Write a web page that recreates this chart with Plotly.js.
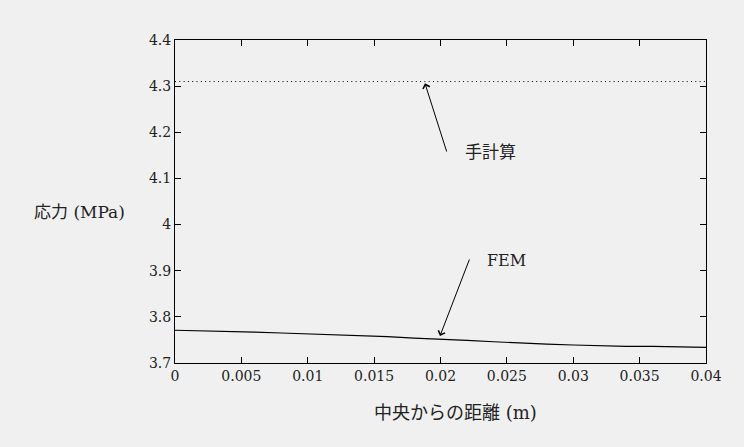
<!DOCTYPE html>
<html>
<head>
<meta charset="utf-8">
<script src="https://cdn.plot.ly/plotly-3.0.1.min.js"></script>
<style>html,body{margin:0;padding:0;background:#f0f0f0;}</style>
</head>
<body>
<div id="chart" style="width:744px;height:447px;"></div>
<script>
// FEM result along distance from the centre
const femX = [0,0.002,0.004,0.006,0.008,0.010,0.012,0.014,0.016,0.018,0.020,0.022,0.024,0.026,0.028,0.030,0.032,0.034,0.036,0.038,0.040];
const femY = [3.771,3.770,3.769,3.767,3.765,3.763,3.762,3.759,3.757,3.754,3.752,3.749,3.746,3.743,3.741,3.739,3.737,3.736,3.736,3.735,3.734];
// hand calculation (constant)
const handX = [0, 0.04];
const handY = [4.31, 4.31];

const xTickVals = [0,0.005,0.01,0.015,0.02,0.025,0.03,0.035,0.04];
const xTickText = ["0","0.005","0.01","0.015","0.02","0.025","0.03","0.035","0.04"];
const yTickVals = [3.7,3.8,3.9,4.0,4.1,4.2,4.3,4.4];
const yTickText = ["3.7","3.8","3.9","4","4.1","4.2","4.3","4.4"];

const labelHand = "手計算";
const labelFEM = "FEM";
const xTitle = "中央からの距離 (m)";
const yTitle = "応力 (MPa)";

const FONT = "DejaVu Serif, Noto Sans CJK JP, serif";

const traces = [
  {x: handX, y: handY, mode: 'lines', line: {color: '#000', width: 1, dash: '1px,3.3px'}, hoverinfo: 'skip'},
  {x: femX, y: femY, mode: 'lines', line: {color: '#000', width: 1.2}, hoverinfo: 'skip'}
];

const axisCommon = {
  showline: true, linecolor: '#000', linewidth: 1, mirror: 'ticks',
  ticks: 'inside', ticklen: 6, tickcolor: '#000', tickwidth: 1,
  showgrid: false, zeroline: false, tickmode: 'array',
  tickfont: {family: FONT, size: 14, color: '#222'}
};

const pw = 744 - 175 - 38, ph = 447 - 40 - 84;
const px2x = p => (p - 175) / pw;
const px2y = p => (447 - 84 - p) / ph;

const layout = {
  width: 744, height: 447,
  margin: {l: 175, r: 38, t: 40, b: 84},
  paper_bgcolor: '#f0f0f0', plot_bgcolor: '#f0f0f0',
  showlegend: false,
  font: {family: FONT},
  xaxis: Object.assign({}, axisCommon, {range: [0, 0.04], tickvals: xTickVals, ticktext: xTickText}),
  yaxis: Object.assign({}, axisCommon, {range: [3.7, 4.4], tickvals: yTickVals, ticktext: yTickText}),
  annotations: [
    {x: 0.01883, y: 4.306, ax: 0.0205, ay: 4.155, xref: 'x', yref: 'y', axref: 'x', ayref: 'y',
     text: '', showarrow: true, arrowhead: 4, arrowsize: 1.4, arrowwidth: 1, arrowcolor: '#000'},
    {x: 0.01996, y: 3.7585, ax: 0.02222, ay: 3.9276, xref: 'x', yref: 'y', axref: 'x', ayref: 'y',
     text: '', showarrow: true, arrowhead: 4, arrowsize: 1.4, arrowwidth: 1, arrowcolor: '#000'},
    {x: 0.02375, y: 4.157, xref: 'x', yref: 'y', text: labelHand, showarrow: false,
     xanchor: 'center', yanchor: 'middle', font: {family: FONT, size: 17, color: '#222'}},
    {x: 0.0250, y: 3.923, xref: 'x', yref: 'y', text: labelFEM, showarrow: false,
     xanchor: 'center', yanchor: 'middle', font: {family: FONT, size: 16, color: '#222'}},
    {x: px2x(455), y: px2y(412), xref: 'paper', yref: 'paper', text: xTitle, showarrow: false,
     xanchor: 'center', yanchor: 'middle', font: {family: FONT, size: 18, color: '#222'}},
    {x: px2x(79), y: px2y(212), xref: 'paper', yref: 'paper', text: yTitle, showarrow: false,
     xanchor: 'center', yanchor: 'middle', font: {family: FONT, size: 17, color: '#222'}}
  ]
};

Plotly.newPlot('chart', traces, layout, {staticPlot: true, displayModeBar: false});
</script>
</body>
</html>
